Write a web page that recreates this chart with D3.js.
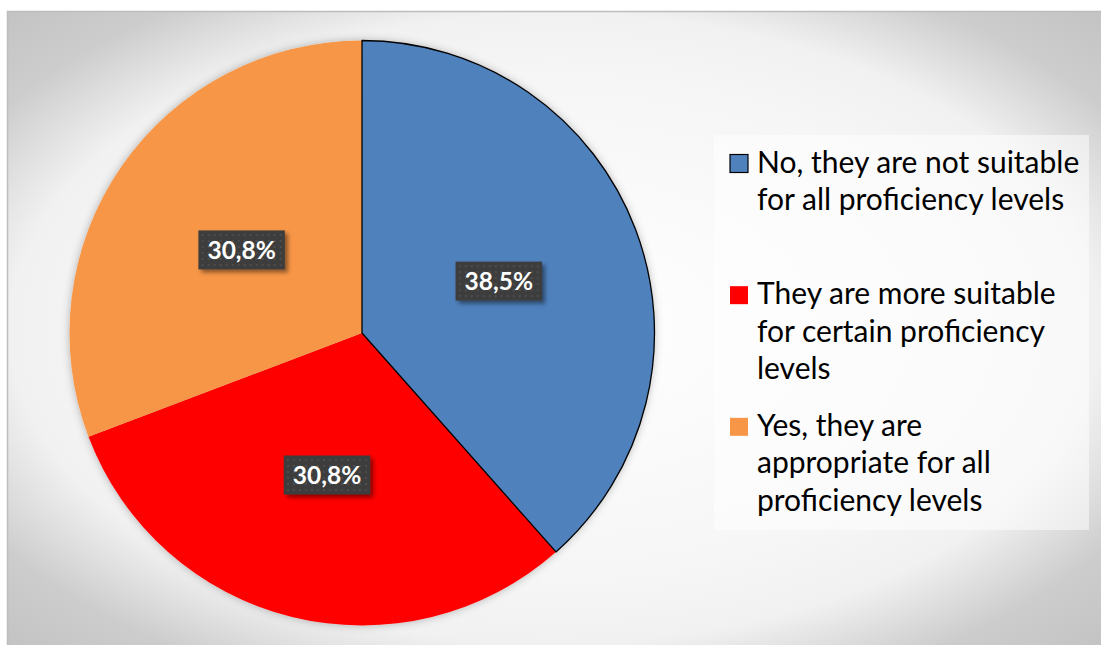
<!DOCTYPE html>
<html><head><meta charset="utf-8">
<script src="https://cdn.jsdelivr.net/npm/d3@7"></script>
<style>html,body{margin:0;padding:0;background:#fff;} svg{display:block;}</style>
</head><body>
<svg id="chart" width="1101" height="645"></svg>
<script>
// Survey answers and their shares (%)
const categories = [
  "No, they are not suitable for all proficiency levels",
  "They are more suitable for certain proficiency levels",
  "Yes, they are appropriate for all proficiency levels"
];
const legendLines = [
  ["No, they are not suitable", "for all proficiency levels"],
  ["They are more suitable", "for certain proficiency", "levels"],
  ["Yes, they are", "appropriate for all", "proficiency levels"]
];
const values = [38.5, 30.8, 30.8];
const valueLabels = ["38,5%", "30,8%", "30,8%"];
const colors = ["#4F81BD", "#FF0000", "#F79646"];

const W = 1101, H = 645;
const svg = d3.select("#chart");
const defs = svg.append("defs");

// Background: radial grey gradient, light in the middle
const bg = defs.append("radialGradient").attr("id", "bgGrad")
  .attr("cx", "0.5").attr("cy", "0.5").attr("r", "0.71");
[[0, "#ffffff"], [0.55, "#f6f6f6"], [0.7, "#f1f1f1"], [0.86, "#cdcdcd"], [1, "#c3c3c3"]]
  .forEach(([o, c]) => bg.append("stop").attr("offset", o).attr("stop-color", c));

// Soft halo around the pie
const halo = defs.append("filter").attr("id", "halo")
  .attr("x", "-10%").attr("y", "-10%").attr("width", "120%").attr("height", "120%");
halo.append("feDropShadow").attr("dx", 0).attr("dy", 0)
  .attr("stdDeviation", 4).attr("flood-color", "#000").attr("flood-opacity", 0.28);

// Drop shadow for the value boxes
const boxShadow = defs.append("filter").attr("id", "boxShadow")
  .attr("x", "-20%").attr("y", "-20%").attr("width", "150%").attr("height", "160%");
boxShadow.append("feDropShadow").attr("dx", 3).attr("dy", 3)
  .attr("stdDeviation", 2).attr("flood-color", "#000").attr("flood-opacity", 0.45);

// Dotted texture for the value boxes
const pat = defs.append("pattern").attr("id", "dots")
  .attr("patternUnits", "userSpaceOnUse").attr("width", 6).attr("height", 6);
pat.append("rect").attr("width", 6).attr("height", 6).attr("fill", "#3d3d3d");
pat.append("rect").attr("x", 2).attr("y", 2).attr("width", 2).attr("height", 2).attr("fill", "#4e4e4e");

// Chart area frame (right and bottom edges run past the page)
const bgRect = { x: 7.5, y: 11.5, w: W - 7, h: H - 11 };
svg.append("rect")
  .attr("x", bgRect.x).attr("y", bgRect.y).attr("width", bgRect.w).attr("height", bgRect.h)
  .attr("fill", "url(#bgGrad)");
svg.append("path")
  .attr("d", `M${W + 5},${bgRect.y}H${bgRect.x}V${H + 5}`)
  .attr("fill", "none").attr("stroke", "#bdbdbd").attr("stroke-width", 1.5);

// Pie
const cx = 362, cy = 333, R = 292.5;
const pie = d3.pie().sort(null).value(d => d);
const arcs = pie(values);
const arc = d3.arc().innerRadius(0).outerRadius(R);
const labelArc = d3.arc().innerRadius(0).outerRadius(R);

const g = svg.append("g").attr("transform", `translate(${cx},${cy})`);
g.append("g").attr("filter", "url(#halo)")
  .selectAll("path").data(arcs).join("path")
  .attr("d", arc)
  .attr("fill", (d, i) => colors[i]);
// Outline on the first slice
g.append("path").datum(arcs[0]).attr("d", arc)
  .attr("fill", "none").attr("stroke", "#000").attr("stroke-width", 1.3)
  .attr("stroke-linejoin", "round");

// Value labels in dark boxes
const lab = g.selectAll("g.lab").data(arcs).join("g").attr("class", "lab")
  .attr("transform", d => `translate(${labelArc.centroid(d)})`);
lab.each(function (d, i) {
  const s = d3.select(this);
  const box = s.append("rect").attr("fill", "url(#dots)").attr("filter", "url(#boxShadow)");
  const t = s.append("text")
    .attr("text-anchor", "middle").attr("dy", "0.36em")
    .attr("font-family", "Lato, 'Open Sans', sans-serif")
    .attr("font-weight", "bold").attr("font-size", 24.5)
    .attr("fill", "#fff").text(valueLabels[i]);
  const w = t.node().getComputedTextLength();
  const bw = w + 18, bh = 39;
  box.attr("x", -bw / 2).attr("y", -bh / 2).attr("width", bw).attr("height", bh);
});

// Legend
const lx = 714, ly = 135, lw = 375, lh = 395;
svg.append("rect").attr("x", lx).attr("y", ly).attr("width", lw).attr("height", lh)
  .attr("fill", "#ffffff").attr("fill-opacity", 0.5);
const entryH = lh / categories.length, lineH = 37.5;
const leg = svg.selectAll("g.leg").data(categories).join("g").attr("class", "leg")
  .attr("transform", (d, i) => `translate(${lx},${ly + i * entryH})`);
leg.append("rect")
  .attr("x", 16).attr("y", 37.5 - 18).attr("width", 18).attr("height", 18)
  .attr("fill", (d, i) => colors[i])
  .attr("stroke", (d, i) => i === 0 ? "#000" : "none").attr("stroke-width", 1.2);
leg.append("text")
  .attr("font-family", "Lato, 'Open Sans', sans-serif").attr("font-size", 30)
  .attr("fill", "#000")
  .selectAll("tspan").data((d, i) => legendLines[i]).join("tspan")
  .attr("x", 43).attr("y", (d, j) => 37.5 + j * lineH)
  .text(d => d);
</script>
</body></html>
